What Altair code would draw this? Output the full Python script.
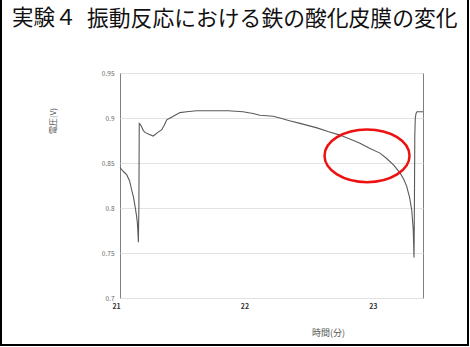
import altair as alt
import pandas as pd

# time (minutes) and voltage (V)
time_min = [21.0, 21.03, 21.052, 21.075, 21.091, 21.105, 21.117, 21.128, 21.135, 21.140, 21.143,
            21.147, 21.150, 21.158, 21.169, 21.182, 21.195, 21.225, 21.259, 21.295, 21.325,
            21.345, 21.364, 21.39, 21.415, 21.44, 21.467, 21.519, 21.597, 21.70, 21.841,
            21.958, 22.036, 22.090, 22.192, 22.246, 22.32, 22.402, 22.534, 22.62, 22.713,
            22.80, 22.869, 22.947, 23.025, 23.077, 23.13, 23.181, 23.21, 23.233, 23.255,
            23.272, 23.284, 23.290, 23.293, 23.296, 23.300, 23.306, 23.313, 23.360]
voltage_v = [0.845, 0.840, 0.837, 0.830, 0.820, 0.812, 0.802, 0.792, 0.784, 0.772, 0.762,
             0.80, 0.894, 0.893, 0.890, 0.886, 0.884, 0.882, 0.880, 0.884, 0.887,
             0.892, 0.898, 0.900, 0.902, 0.904, 0.906, 0.907, 0.908, 0.908, 0.908,
             0.907, 0.905, 0.903, 0.902, 0.900, 0.897, 0.894, 0.889, 0.885, 0.881,
             0.876, 0.872, 0.866, 0.861, 0.855, 0.848, 0.839, 0.832, 0.824, 0.812,
             0.798, 0.776, 0.745, 0.80, 0.880, 0.900, 0.905, 0.907, 0.907]

y_ticks = [0.7, 0.75, 0.8, 0.85, 0.9, 0.95]
x_ticks = [21, 22, 23]

title_head = "実験４"
title_body = "振動反応における鉄の酸化皮膜の変化"
y_title = "電圧(V)"
x_title = "時間(分)"

# annotation ellipse centre (data coords)
ellipse_x = [22.924]
ellipse_y = [0.858]

FONT = "Noto Sans CJK JP"

df = pd.DataFrame({"t": time_min, "v": voltage_v})
ann = pd.DataFrame({"t": ellipse_x, "v": ellipse_y})

xscale = alt.Scale(domain=[21, 23.36], nice=False, zero=False)
yscale = alt.Scale(domain=[0.7, 0.95], nice=False, zero=False)

line = alt.Chart(df).mark_line(color="#5a5a5a", strokeWidth=1.1).encode(
    x=alt.X("t:Q", scale=xscale,
            axis=alt.Axis(values=x_ticks, title=None, grid=False, ticks=False, domain=False,
                          labelFontSize=7, labelColor="#333333", labelFontWeight="bold",
                          labelPadding=4, labelFont=FONT, format="d",
                          labelFlush=False, labelOffset=-4)),
    y=alt.Y("v:Q", scale=yscale,
            axis=alt.Axis(values=y_ticks, title=None, grid=True, gridColor="#e2e2e2",
                          ticks=False, domain=False, labelFontSize=6.5, labelColor="#666666",
                          labelPadding=6, labelFont=FONT, format="~g")),
)

ellipse_path = ("M -1 0 C -1 -0.342 -0.552 -0.62 0 -0.62 C 0.552 -0.62 1 -0.342 1 0 "
                "C 1 0.342 0.552 0.62 0 0.62 C -0.552 0.62 -1 0.342 -1 0 Z")
ellipse = alt.Chart(ann).mark_point(shape=ellipse_path, filled=False, stroke="#ee1111",
                                    strokeWidth=2.5, size=7225, opacity=1).encode(
    x=alt.X("t:Q", scale=xscale),
    y=alt.Y("v:Q", scale=yscale),
)

one = alt.Data(values=[{}])

title1 = alt.Chart(one).mark_text(text=title_head, font=FONT, fontSize=21.5, align="left",
                                  baseline="middle", color="#111111").encode(
    x=alt.value(-108), y=alt.value(-54))
title2 = alt.Chart(one).mark_text(text=title_body, font=FONT, fontSize=21.8, align="left",
                                  baseline="middle", color="#111111").encode(
    x=alt.value(-33), y=alt.value(-54))

ytitle = alt.Chart(one).mark_text(text=y_title, font=FONT, fontSize=8, angle=270,
                                  align="center", baseline="middle", color="#555555").encode(
    x=alt.value(-66), y=alt.value(48))

xtitle = alt.Chart(one).mark_text(text=x_title, font=FONT, fontSize=9, align="left",
                                  baseline="middle", color="#555555").encode(
    x=alt.value(192), y=alt.value(260))

frame = alt.Chart(one).mark_rect(fill=None, stroke="#000000", strokeWidth=2).encode(
    x=alt.value(-119), x2=alt.value(348), y=alt.value(-80), y2=alt.value(272))

chart = alt.layer(line, ellipse, title1, title2, ytitle, xtitle, frame).properties(
    width=303, height=225,
    autosize=alt.AutoSizeParams(type="none"),
    padding={"left": 120, "top": 73, "right": 47, "bottom": 49},
    background="white",
).configure_view(stroke="#7f7f7f", strokeWidth=1)

chart.save("out.html", embed_options={"renderer": "svg", "actions": False})
